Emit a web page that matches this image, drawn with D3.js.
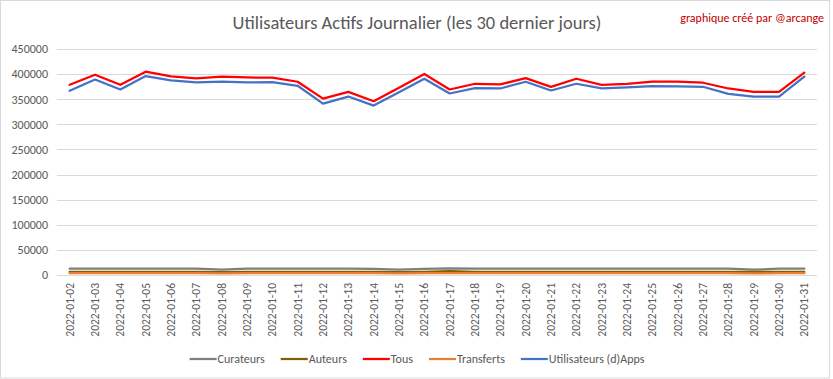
<!DOCTYPE html>
<html><head><meta charset="utf-8">
<script src="https://cdn.jsdelivr.net/npm/d3@7"></script>
<style>
html,body{margin:0;padding:0;background:#fff;}
text{font-family:Carlito,Lato,"Liberation Sans",sans-serif;}
</style></head>
<body><svg id="c" width="833" height="379"></svg>
<script>
const dates = ["2022-01-02","2022-01-03","2022-01-04","2022-01-05","2022-01-06","2022-01-07","2022-01-08","2022-01-09","2022-01-10","2022-01-11","2022-01-12","2022-01-13","2022-01-14","2022-01-15","2022-01-16","2022-01-17","2022-01-18","2022-01-19","2022-01-20","2022-01-21","2022-01-22","2022-01-23","2022-01-24","2022-01-25","2022-01-26","2022-01-27","2022-01-28","2022-01-29","2022-01-30","2022-01-31"];
const curateurs = [12500,12500,12500,12500,12500,12500,10500,12500,12500,12500,12500,12500,12000,10500,12000,13000,12500,12500,12500,12500,12500,12500,12500,12500,12500,12500,12500,10500,12500,12500];
const auteurs = [6000,6000,6000,6000,6000,6000,5500,6000,6000,6000,6000,6000,6000,5500,6000,7500,6000,6000,6000,6000,6000,6000,6000,6000,6000,6000,6000,6000,6000,6000];
const tous = [378700,398800,378700,404800,395400,391400,394800,393400,392800,384800,351300,364700,346100,373000,400200,369400,380800,379400,392100,374700,390800,378700,380800,384800,384800,382800,371400,364700,364700,402800];
const transferts = [3500,3500,3500,3500,3500,3500,3000,3500,3500,3500,3500,3500,3500,3000,3500,3500,3500,3500,3500,3500,3500,3500,3500,3500,3500,3500,3500,3000,3500,3500];
const utilisateurs = [366700,389400,369400,396200,387400,383400,384800,383400,384100,376800,341300,355300,337300,364000,390800,361400,372100,371400,384800,367400,380800,371400,373400,376200,375500,374800,360700,355300,355300,394800];
const yTicks = [0,50000,100000,150000,200000,250000,300000,350000,400000,450000];
const seriesNames = ["Curateurs","Auteurs","Tous","Transferts","Utilisateurs (d)Apps"];
const seriesColors = ["#7f7f7f","#806000","#ff0000","#ed7d31","#4472c4"];
const seriesData = [curateurs,auteurs,tous,transferts,utilisateurs];

const svg = d3.select("#c");
svg.append("rect").attr("x",0.5).attr("y",0.5).attr("width",829).attr("height",377.5)
  .attr("fill","#fff").attr("stroke","#d9d9d9");

const x = d3.scaleBand().domain(dates).range([57,817]);
const y = d3.scaleLinear().domain([0,450000]).range([275,49]);

svg.append("g").selectAll("line").data(yTicks).join("line")
  .attr("x1",57).attr("x2",817)
  .attr("y1",d=>Math.round(y(d))+0.5).attr("y2",d=>Math.round(y(d))+0.5)
  .attr("stroke","#d9d9d9").attr("stroke-width",1);

const yAxis = d3.axisLeft(y).tickValues(yTicks).tickSize(0).tickPadding(0).tickFormat(d=>String(d));
const ga = svg.append("g").attr("transform","translate(48,0)").call(yAxis);
ga.select(".domain").remove();
ga.selectAll("text").attr("fill","#595959").style("font-size","12px").style("font-family","Carlito,Lato,sans-serif");

const xAxis = d3.axisBottom(x).tickSize(0).tickPadding(0);
const gx = svg.append("g").attr("transform","translate(0,281)").call(xAxis);
gx.select(".domain").remove();
gx.selectAll("text").attr("fill","#595959").style("font-size","11.5px")
  .attr("transform","rotate(-90)").attr("text-anchor","end").attr("dx","0").attr("dy","0.35em").attr("x",-2).attr("y",0);

const line = d3.line().x((d,i)=>x(dates[i])+x.bandwidth()/2).y(d=>y(d));
seriesData.forEach((s,k)=>{
  svg.append("path").datum(s).attr("d",line).attr("fill","none")
    .attr("stroke",seriesColors[k]).attr("stroke-width",2.25).attr("stroke-linejoin","round").attr("stroke-linecap","round");
});

svg.append("text").attr("x",417).attr("y",29).attr("text-anchor","middle")
  .attr("fill","#595959").style("font-size","18.5px").style("font-weight","300")
  .text("Utilisateurs Actifs Journalier (les 30 dernier jours)");
svg.append("text").attr("x",824).attr("y",22).attr("text-anchor","end")
  .attr("fill","#c00000").style("font-size","12px")
  .text("graphique créé par @arcange");

const lg = svg.append("g");
const items = seriesNames.map((n,k)=>{
  const g = lg.append("g");
  g.append("line").attr("x1",0).attr("x2",27).attr("y1",0).attr("y2",0).attr("stroke",seriesColors[k]).attr("stroke-width",2.25);
  const t = g.append("text").attr("x",28).attr("y",0).attr("dy","0.35em").attr("fill","#595959").style("font-size","12px").text(n);
  return {g, w: 28 + t.node().getComputedTextLength()};
});
const gap = 16;
const total = d3.sum(items,d=>d.w) + gap*(items.length-1);
let cx = 417 - total/2;
items.forEach(it=>{ it.g.attr("transform",`translate(${cx},359)`); cx += it.w + gap; });
</script></body></html>
